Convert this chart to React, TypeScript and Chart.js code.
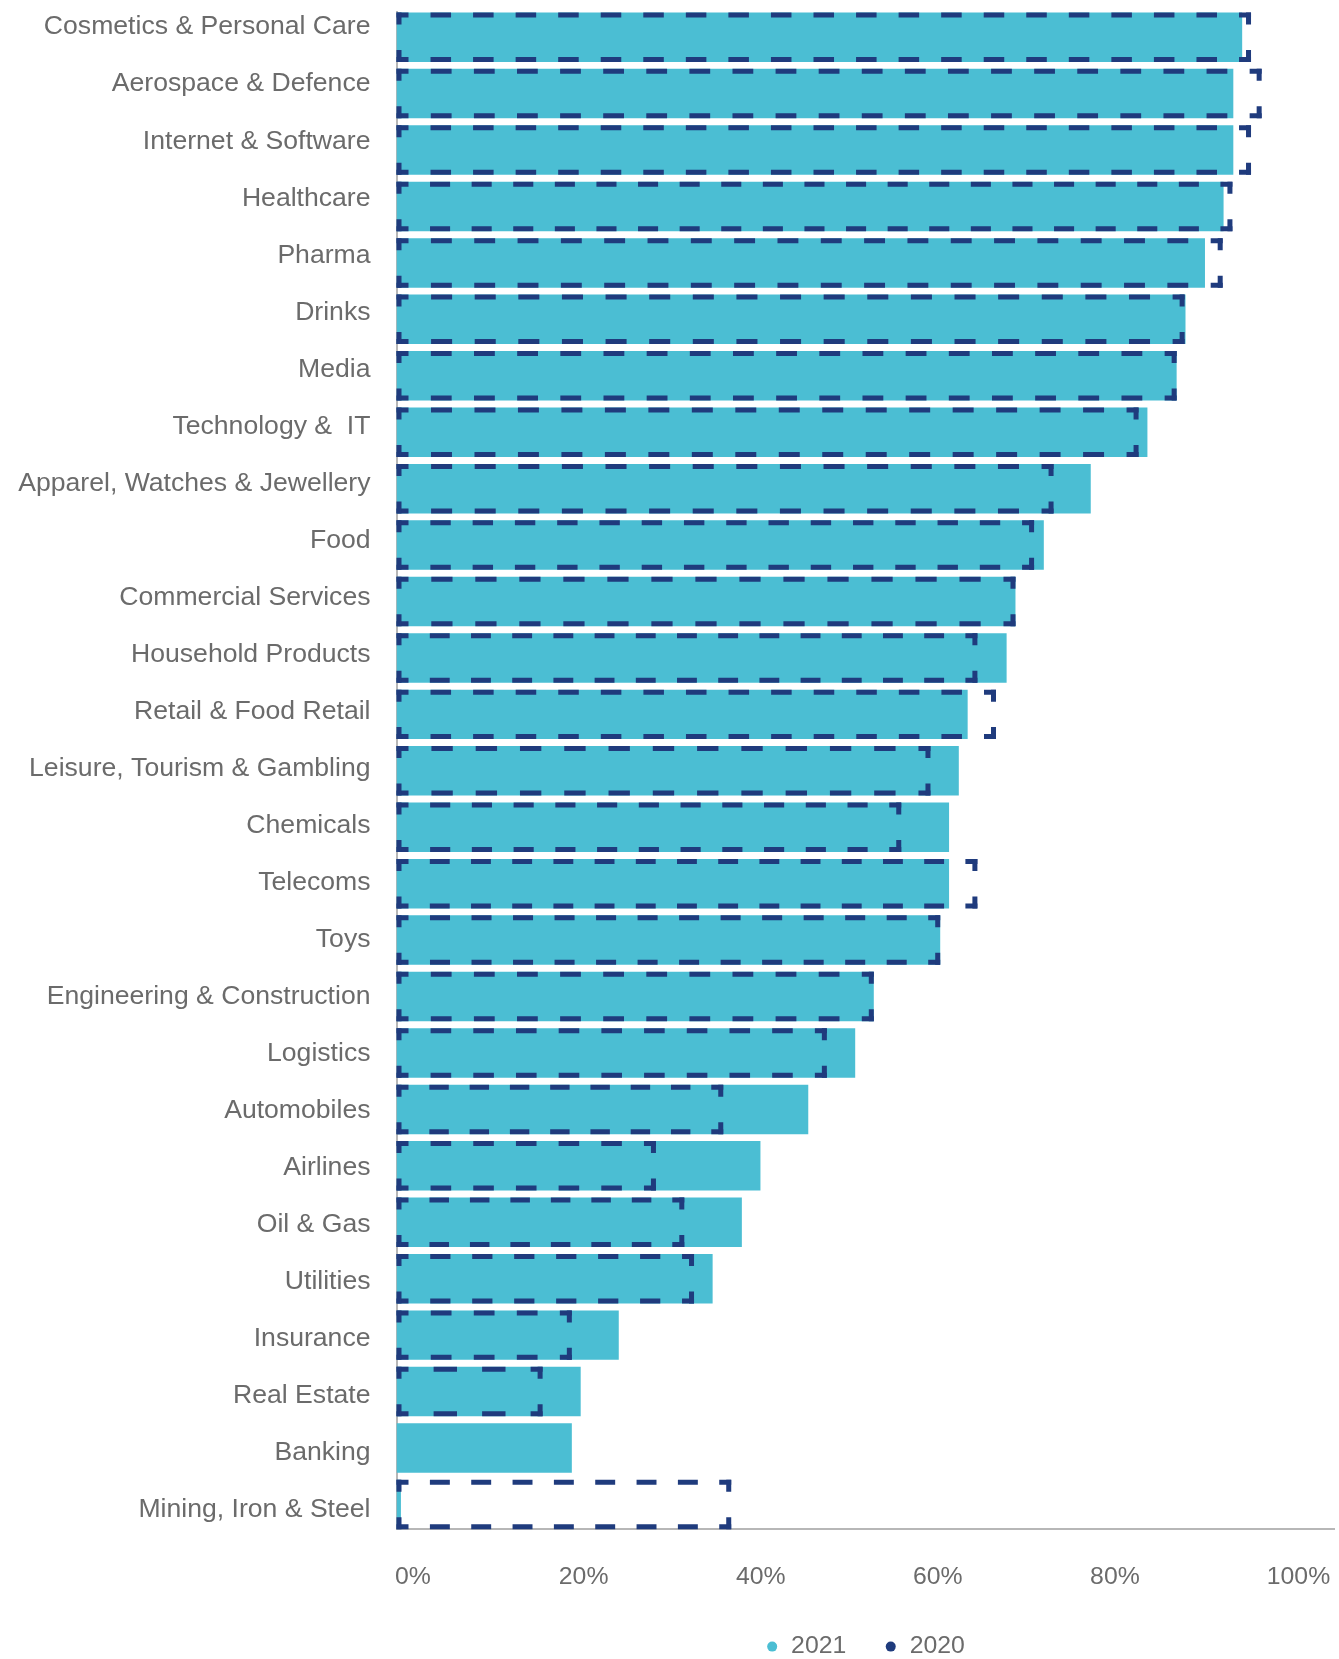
import React, { useEffect, useRef } from "react";
import { Chart, registerables } from "chart.js";

Chart.register(...registerables);

const categories: string[] = [
  "Cosmetics & Personal Care",
  "Aerospace & Defence",
  "Internet & Software",
  "Healthcare",
  "Pharma",
  "Drinks",
  "Media",
  "Technology &  IT",
  "Apparel, Watches & Jewellery",
  "Food",
  "Commercial Services",
  "Household Products",
  "Retail & Food Retail",
  "Leisure, Tourism & Gambling",
  "Chemicals",
  "Telecoms",
  "Toys",
  "Engineering & Construction",
  "Logistics",
  "Automobiles",
  "Airlines",
  "Oil & Gas",
  "Utilities",
  "Insurance",
  "Real Estate",
  "Banking",
  "Mining, Iron & Steel",
];

const values2021: number[] = [
  95.5, 94.5, 94.5, 93.4, 91.3, 89.1, 88.1, 84.8, 78.4, 73.1, 69.9, 68.9, 64.5,
  63.5, 62.4, 62.4, 61.4, 53.9, 51.8, 46.5, 41.1, 39.0, 35.7, 25.1, 20.8, 19.8,
  0.5,
];

const values2020: (number | null)[] = [
  96.5, 97.7, 96.5, 94.4, 93.3, 89.0, 88.1, 83.8, 74.2, 72.0, 69.9, 65.6, 67.7,
  60.3, 57.0, 65.6, 61.4, 53.9, 48.6, 36.9, 29.3, 32.5, 33.6, 19.8, 16.5, null,
  37.8,
];

const xTickValues: number[] = [0, 20, 40, 60, 80, 100];
const seriesNames: string[] = ["2021", "2020"];
const seriesColors: string[] = ["#4bbed3", "#1f3b7d"];

const FONT = '"Liberation Sans", Arial, Helvetica, sans-serif';
const TEXT = "#6b6b6b";
const AXIS = "#b7b7b7";

const DASH = 20.5;
const GAP = 22;
const CORNER = 12;
const LINE_W = 5;
// label placement nudges (in axis units) so tick labels sit where the original draws them
const X_LABEL_NUDGE = [1.86, 1.13, 1.13, 1.13, 1.13, 1.86];

function drawDashedEdge(
  ctx: CanvasRenderingContext2D,
  x1: number,
  y1: number,
  x2: number,
  y2: number
) {
  const L = Math.hypot(x2 - x1, y2 - y1);
  if (L <= 0) return;
  const ux = (x2 - x1) / L;
  const uy = (y2 - y1) / L;
  const segs: [number, number][] = [];
  const c = Math.min(CORNER, L / 2);
  if (L <= 2 * c + 6) {
    segs.push([0, L]);
  } else {
    const inner = L - 2 * c;
    const n = Math.max(0, Math.round((inner - GAP) / (DASH + GAP)));
    const s = inner / (n * (DASH + GAP) + GAP);
    const d = DASH * s;
    const g = GAP * s;
    segs.push([0, c]);
    let pos = c + g;
    for (let k = 0; k < n; k++) {
      segs.push([pos, pos + d]);
      pos += d + g;
    }
    segs.push([L - c, L]);
  }
  ctx.beginPath();
  segs.forEach(([a, b]) => {
    ctx.moveTo(x1 + ux * a, y1 + uy * a);
    ctx.lineTo(x1 + ux * b, y1 + uy * b);
  });
  ctx.stroke();
}

const dashedOutline = {
  id: "dashedOutline",
  afterDatasetsDraw(chart: any) {
    const meta = chart.getDatasetMeta(1);
    if (!meta || meta.hidden) return;
    const ctx = chart.ctx as CanvasRenderingContext2D;
    const h = LINE_W / 2;
    ctx.save();
    ctx.strokeStyle = seriesColors[1];
    ctx.lineWidth = LINE_W;
    ctx.lineCap = "butt";
    meta.data.forEach((el: any, i: number) => {
      if (values2020[i] == null) return;
      const p = el.getProps(["x", "y", "base", "height"], true);
      if (!isFinite(p.x) || !isFinite(p.base)) return;
      const x0 = Math.min(p.base, p.x);
      const x1 = Math.max(p.base, p.x);
      const y0 = p.y - p.height / 2;
      const y1 = p.y + p.height / 2;
      drawDashedEdge(ctx, x0, y0 + h, x1, y0 + h);
      drawDashedEdge(ctx, x0, y1 - h, x1, y1 - h);
      drawDashedEdge(ctx, x0 + h, y0, x0 + h, y1);
      drawDashedEdge(ctx, x1 - h, y0, x1 - h, y1);
    });
    ctx.restore();
  },
};

export default function App() {
  const ref = useRef<HTMLCanvasElement | null>(null);

  useEffect(() => {
    if (!ref.current) return;
    const chart = new Chart(ref.current, {
      type: "bar",
      data: {
        datasets: [
          {
            label: seriesNames[0],
            data: values2021.map((v, i) => ({ x: v, y: i })),
            backgroundColor: seriesColors[0],
            borderWidth: 0,
            grouped: false,
            categoryPercentage: 1,
            barPercentage: 0.877,
          } as any,
          {
            label: seriesNames[1],
            data: values2020.map((v, i) => ({ x: v, y: i })),
            backgroundColor: "rgba(0,0,0,0)",
            borderWidth: 0,
            grouped: false,
            categoryPercentage: 1,
            barPercentage: 0.877,
          } as any,
        ],
      },
      options: {
        indexAxis: "y",
        responsive: false,
        animation: false,
        devicePixelRatio: 1,
        layout: { padding: { top: 12, right: 5, bottom: -10, left: 0 } },
        scales: {
          x: {
            type: "linear",
            position: "bottom",
            min: 0,
            max: 105.87,
            offset: false,
            grid: { display: false, drawTicks: false },
            border: { display: true, color: AXIS, width: 2 },
            ticks: {
              color: TEXT,
              font: { family: FONT, size: 24.8 },
              padding: 33,
              labelOffset: 0,
              maxRotation: 0,
              autoSkip: false,
              callback: (_v: any, index: number) => `${xTickValues[index]}%`,
            },
            afterBuildTicks: (s: any) => {
              s.ticks = xTickValues.map((v, i) => ({ value: v + X_LABEL_NUDGE[i] }));
            },
            afterFit: (s: any) => {
              s.height = 67;
              s.paddingLeft = 0;
              s.paddingRight = 0;
            },
          },
          y: {
            type: "linear",
            axis: "y",
            reverse: true,
            offset: false,
            min: -0.4463,
            max: 26.439,
            display: false,
            grid: { display: false },
            afterBuildTicks: (s: any) => {
              s.ticks = categories.map((_, i) => ({ value: i }));
            },
          },
          yl: {
            type: "linear",
            axis: "y",
            position: "left",
            reverse: true,
            offset: false,
            min: -0.2646,
            max: 26.334,
            grid: { display: false, drawTicks: false, offset: false },
            border: { display: true, color: AXIS, width: 2 },
            ticks: {
              color: TEXT,
              font: { family: FONT, size: 26.6 },
              padding: 26,
              autoSkip: false,
              callback: (v: any) => categories[Math.round(Number(v))] ?? "",
            },
            afterBuildTicks: (s: any) => {
              s.ticks = categories.map((_, i) => ({ value: i }));
            },
            afterFit: (s: any) => {
              s.width = 396.5;
              s.paddingTop = 0;
              s.paddingBottom = 0;
            },
          },
        } as any,
        plugins: {
          legend: {
            display: true,
            position: "bottom",
            fullSize: false,
            align: "center",
            labels: {
              usePointStyle: true,
              pointStyle: "circle",
              boxWidth: 13,
              boxHeight: 7.07,
              padding: 38,
              color: TEXT,
              font: { family: FONT, size: 24.8 },
              generateLabels: () =>
                seriesNames.map((name, i) => ({
                  text: name,
                  fillStyle: seriesColors[i],
                  strokeStyle: seriesColors[i],
                  lineWidth: 0,
                  pointStyle: "circle",
                  rotation: 0,
                  hidden: false,
                  datasetIndex: i,
                  fontColor: TEXT,
                })) as any,
            },
          },
          tooltip: { enabled: false },
        },
      } as any,
      plugins: [dashedOutline],
    });
    return () => chart.destroy();
  }, []);

  return (
    <div
      style={{
        position: "absolute",
        left: 0,
        top: 0,
        width: 1339,
        height: 1659,
        background: "#ffffff",
      }}
    >
      <canvas ref={ref} width={1339} height={1659} style={{ display: "block" }} />
    </div>
  );
}
